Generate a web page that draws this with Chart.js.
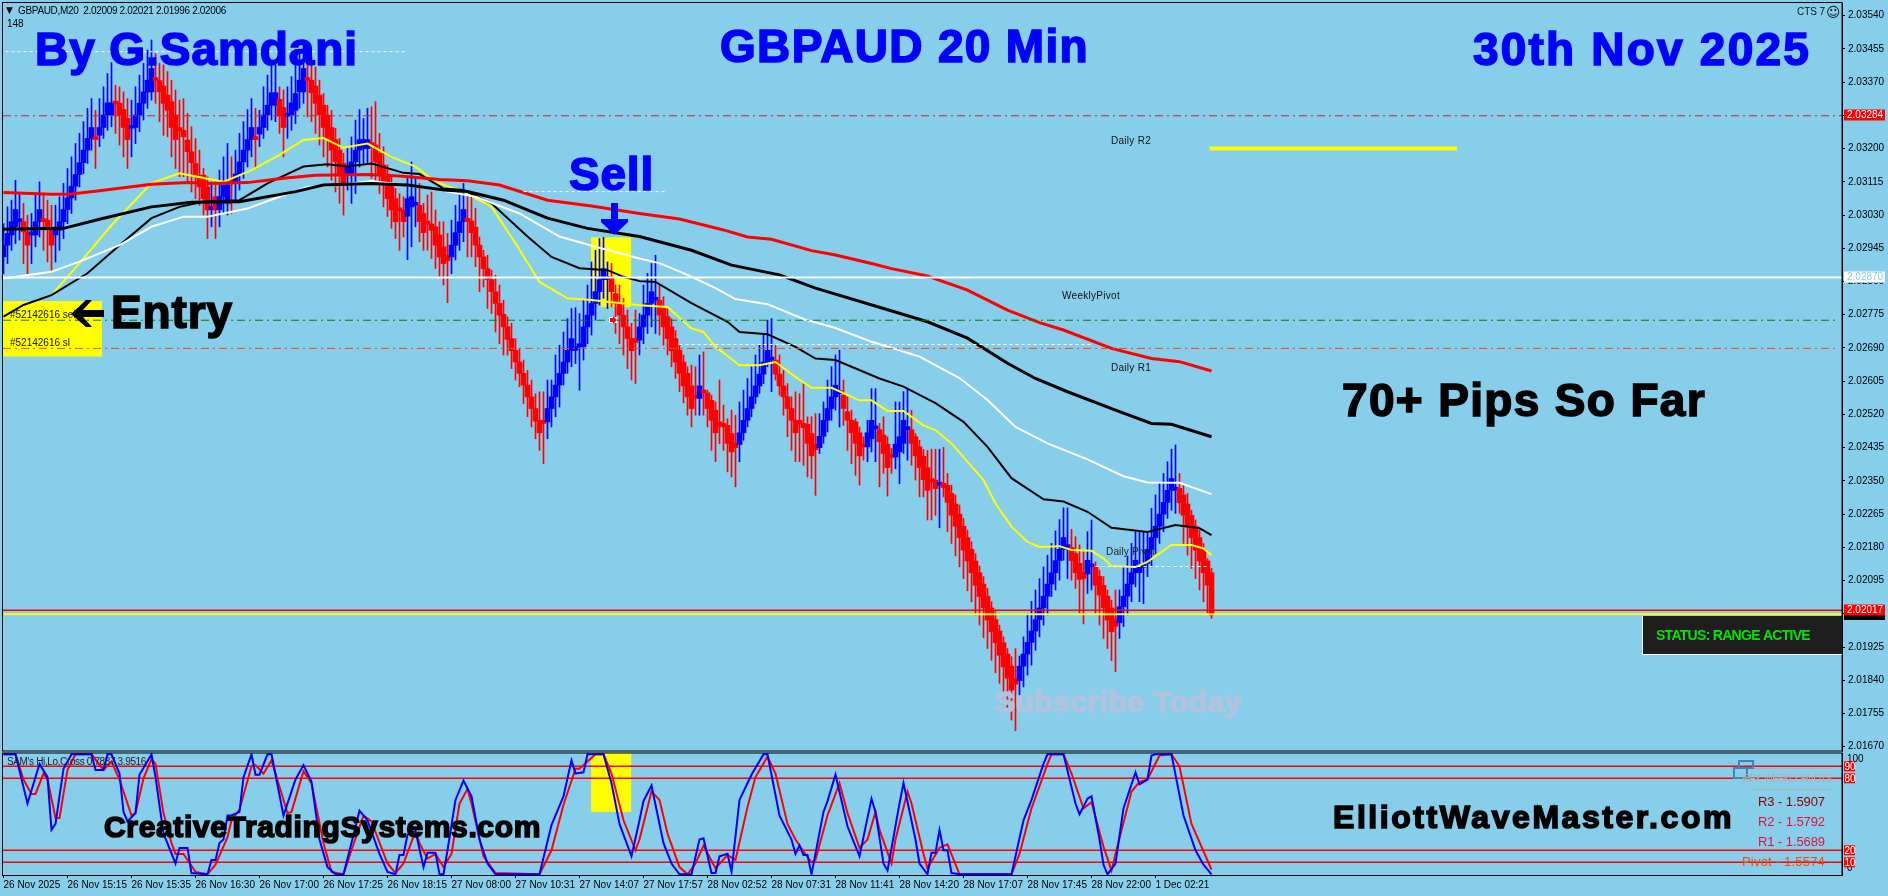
<!DOCTYPE html>
<html>
<head>
<meta charset="utf-8">
<title>GBPAUD 20 Min</title>
<script src="https://cdn.jsdelivr.net/npm/chart.js@4/dist/chart.umd.min.js"></script>
<style>
  html, body { margin: 0; padding: 0; background: #87ceeb; overflow: hidden; }
  canvas { position: absolute; left: 0; }
  #priceChart { top: 0; }
  #oscChart { top: 752px; }
</style>
</head>
<body>
<canvas id="priceChart" width="1888" height="752"></canvas>
<canvas id="oscChart" width="1888" height="144"></canvas>
<script>
// all prices below are in points above 2.00000 (3284 = 2.03284)
const opens = [
  2923,2953,2979,3000,3013,3013,2987,2979,2979,3013,
  3021,3017,2996,2979,2991,3013,3044,3074,3104,3134,
  3164,3196,3226,3224,3234,3254,3286,3286,3317,3316,
  3300,3277,3252,3254,3286,3316,3345,3345,3375,3374,
  3360,3337,3320,3286,3254,3247,3222,3192,3162,3132,
  3132,3102,3044,3077,3044,3077,3060,3115,3115,3135,
  3166,3196,3223,3225,3237,3254,3286,3311,3311,3326,
  3305,3283,3286,3298,3345,3345,3375,3375,3360,3337,
  3311,3286,3254,3223,3196,3162,3136,3136,3166,3196,
  3200,3200,3211,3209,3188,3158,3135,3104,3072,3044,
  3043,3027,3051,3055,3055,3034,3008,3007,3000,2979,
  2949,2927,2923,2953,2985,3013,3015,3015,2999,2953,
  2923,2893,2865,2834,2804,2776,2744,2714,2684,2654,
  2625,2595,2565,2535,2505,2505,2501,2535,2565,2595,
  2625,2654,2684,2684,2693,2693,2744,2774,2804,2834,
  2865,2865,2868,2829,2804,2774,2744,2714,2714,2710,
  2744,2774,2804,2812,2812,2791,2770,2744,2714,2684,
  2654,2625,2593,2565,2561,2578,2575,2556,2531,2501,
  2497,2492,2471,2447,2443,2473,2505,2535,2565,2593,
  2623,2654,2659,2659,2623,2593,2565,2535,2505,2505,
  2497,2495,2471,2444,2435,2464,2505,2535,2565,2573,
  2569,2527,2505,2501,2473,2444,2437,2458,2483,2481,
  2467,2444,2416,2411,2424,2446,2481,2481,2463,2437,
  2413,2384,2356,2352,2339,2344,2339,2318,2291,2265,
  2234,2205,2175,2145,2115,2086,2055,2025,1995,1966,
  1936,1907,1876,1845,1839,1876,1907,1937,1966,1995,
  2025,2055,2086,2115,2146,2175,2175,2180,2164,2139,
  2117,2112,2130,2129,2106,2083,2055,2025,1995,1987,
  2028,2055,2086,2115,2115,2129,2139,2175,2205,2234,
  2265,2295,2326,2326,2331,2314,2291,2262,2234,2205,
  2175,2145,2115
];
const closes = [
  2953,2983,3013,3044,3014,2987,2953,2987,3013,3044,
  3013,2996,2953,2991,3013,3044,3074,3104,3134,3164,
  3196,3226,3254,3223,3254,3286,3317,3317,3314,3286,
  3254,3223,3254,3286,3316,3345,3375,3405,3374,3345,
  3316,3298,3254,3223,3246,3230,3192,3164,3132,3102,
  3072,3043,3046,3043,3077,3107,3107,3113,3135,3166,
  3196,3223,3254,3223,3254,3286,3311,3343,3343,3283,
  3254,3286,3317,3341,3375,3405,3374,3343,3316,3286,
  3254,3226,3196,3166,3136,3107,3153,3166,3196,3223,
  3223,3223,3208,3166,3135,3115,3072,3043,3013,3041,
  3013,3072,3077,3058,3013,2985,3007,2991,2953,2923,
  2906,2913,2953,2985,3013,3044,3014,2985,2953,2923,
  2893,2865,2834,2804,2774,2744,2712,2683,2654,2625,
  2595,2565,2535,2503,2473,2497,2535,2565,2595,2625,
  2654,2684,2714,2693,2701,2744,2774,2804,2834,2865,
  2893,2867,2834,2804,2774,2744,2714,2683,2704,2744,
  2774,2804,2834,2816,2774,2744,2714,2683,2654,2625,
  2593,2565,2535,2562,2593,2575,2535,2505,2473,2490,
  2488,2446,2424,2435,2473,2505,2535,2565,2593,2623,
  2654,2684,2663,2623,2593,2565,2535,2505,2473,2495,
  2486,2446,2414,2430,2464,2505,2535,2565,2595,2578,
  2535,2505,2473,2446,2414,2437,2473,2505,2486,2450,
  2420,2384,2410,2444,2463,2505,2484,2446,2414,2384,
  2353,2326,2347,2330,2343,2333,2295,2262,2234,2205,
  2173,2145,2115,2083,2054,2025,1994,1964,1936,1904,
  1874,1845,1815,1830,1876,1907,1937,1966,1995,2025,
  2055,2086,2115,2146,2175,2205,2187,2146,2115,2098,
  2100,2147,2132,2083,2058,2025,1994,1964,1978,2028,
  2055,2086,2115,2147,2135,2136,2175,2205,2234,2265,
  2295,2326,2356,2330,2294,2262,2234,2205,2173,2145,
  2115,2083,2007
];
const highs = [
  3008,3051,3068,3119,3085,3060,3030,3034,3085,3115,
  3085,3068,3055,3055,3077,3111,3149,3179,3213,3239,
  3269,3303,3328,3298,3328,3358,3392,3420,3362,3358,
  3345,3328,3324,3358,3388,3418,3452,3478,3443,3418,
  3414,3397,3375,3350,3324,3328,3290,3256,3226,3196,
  3149,3128,3115,3119,3145,3179,3213,3179,3196,3239,
  3269,3300,3328,3303,3298,3358,3388,3418,3414,3358,
  3350,3358,3384,3414,3452,3478,3443,3435,3409,3375,
  3341,3311,3298,3252,3226,3188,3205,3230,3273,3300,
  3277,3303,3307,3320,3239,3205,3158,3128,3098,3085,
  3077,3128,3166,3124,3111,3060,3081,3089,3043,3013,
  3013,2983,3017,3055,3085,3111,3081,3081,3047,2974,
  2940,2927,2889,2876,2851,2812,2770,2753,2714,2689,
  2659,2633,2608,2573,2578,2578,2608,2608,2672,2697,
  2731,2765,2791,2793,2778,2812,2851,2910,2940,2970,
  2973,2910,2906,2851,2851,2817,2787,2753,2787,2778,
  2851,2881,2906,2927,2851,2821,2791,2765,2735,2697,
  2672,2642,2646,2642,2672,2680,2582,2569,2552,2608,
  2544,2509,2531,2518,2552,2582,2612,2642,2672,2697,
  2727,2761,2765,2697,2672,2633,2599,2565,2578,2573,
  2599,2514,2514,2522,2522,2552,2608,2642,2672,2684,
  2608,2565,2531,2509,2488,2463,2505,2586,2586,2497,
  2514,2463,2433,2552,2552,2578,2586,2531,2471,2454,
  2430,2428,2431,2431,2431,2436,2369,2339,2314,2288,
  2254,2224,2194,2164,2132,2105,2075,2041,2015,1981,
  1951,1921,1900,1921,1902,1951,2011,2042,2071,2100,
  2130,2160,2190,2222,2251,2281,2281,2226,2207,2186,
  2169,2220,2250,2143,2122,2105,2071,2045,2071,2071,
  2130,2158,2190,2220,2220,2220,2220,2280,2314,2344,
  2369,2399,2431,2442,2369,2339,2318,2275,2250,2224,
  2190,2151,2126
];
const lows = [
  2880,2906,2940,2957,2966,2906,2880,2906,2949,2974,
  2940,2910,2889,2910,2940,2970,3008,3034,3068,3102,
  3136,3162,3196,3149,3205,3226,3247,3256,3239,3209,
  3179,3149,3179,3213,3243,3273,3303,3324,3316,3269,
  3234,3230,3179,3149,3128,3128,3111,3089,3072,3055,
  3030,2970,3000,2970,3000,3034,3030,3034,3068,3094,
  3124,3153,3179,3149,3205,3226,3247,3273,3269,3239,
  3179,3226,3247,3264,3303,3316,3281,3269,3239,3209,
  3179,3153,3119,3089,3060,3030,3094,3060,3085,3153,
  3162,3162,3124,3115,3085,3051,3026,2996,2970,2940,
  2974,2916,2949,3000,2962,2940,2940,2919,2893,2872,
  2851,2806,2880,2915,2940,2962,2923,2923,2898,2834,
  2846,2791,2778,2731,2701,2672,2672,2637,2608,2591,
  2548,2514,2488,2458,2428,2394,2458,2488,2514,2539,
  2595,2625,2642,2650,2582,2659,2701,2723,2761,2800,
  2817,2791,2795,2727,2701,2672,2637,2608,2599,2672,
  2701,2727,2744,2727,2723,2697,2672,2642,2612,2578,
  2550,2518,2488,2518,2518,2518,2488,2428,2399,2445,
  2428,2373,2360,2335,2399,2454,2488,2514,2548,2574,
  2599,2642,2578,2608,2569,2518,2463,2428,2399,2399,
  2390,2360,2356,2313,2420,2446,2475,2505,2531,2488,
  2492,2428,2394,2364,2339,2403,2399,2424,2399,2335,
  2369,2311,2369,2381,2343,2420,2403,2390,2352,2309,
  2309,2250,2250,2262,2230,2309,2220,2190,2158,2130,
  2100,2069,2041,2007,1981,1949,1921,1891,1859,1832,
  1802,1768,1738,1711,1802,1823,1853,1879,1917,1951,
  1981,2007,2054,2071,2096,2147,2100,2096,2075,2011,
  1984,2062,2071,2011,1981,1947,1921,1890,1862,1947,
  1977,2007,2041,2079,2041,2036,2105,2130,2164,2190,
  2220,2254,2275,2267,2267,2190,2160,2126,2100,2071,
  2041,2011,1998
];

// moving averages, read at the bends of each line
const redMaBars = [0,12,17,24,37,46,52,61,70,78,91,99,109,116,124,136,147,159,169,180,186,192,202,208,217,222,231,241,251,259,265,277,287,294,302];
const redMaVals = [3088,3083,3084,3092,3109,3113,3111,3113,3124,3132,3134,3130,3121,3118,3107,3068,3053,3034,3020,2992,2974,2968,2939,2928,2906,2893,2874,2838,2787,2755,2736,2689,2663,2655,2631];
const slowBlackBars = [0,15,25,37,47,59,73,80,92,101,110,116,125,136,146,159,172,182,194,203,220,231,241,251,258,266,279,287,292,302];
const slowBlackVals = [2994,2996,3022,3051,3063,3064,3090,3107,3111,3107,3094,3090,3068,3022,2996,2975,2940,2902,2877,2843,2791,2757,2715,2651,2612,2578,2527,2497,2495,2463];
const whiteMaBars = [0,12,19,29,37,45,51,61,69,76,84,92,102,111,118,129,139,148,159,164,171,178,183,191,200,208,217,229,239,246,253,261,271,280,286,294,302];
const whiteMaVals = [2868,2885,2911,2953,3000,3026,3026,3047,3077,3102,3107,3117,3105,3090,3077,3034,2975,2949,2919,2907,2877,2843,2815,2802,2764,2741,2706,2668,2613,2557,2488,2446,2405,2362,2346,2345,2316];
const fastBlackBars = [0,5,12,21,29,37,44,50,59,66,75,81,86,92,100,104,110,115,122,131,137,144,151,155,159,163,172,181,184,191,198,203,208,219,225,233,240,246,252,260,265,271,277,286,293,299,302];
const fastBlackVals = [2770,2800,2825,2881,2953,3022,3051,3064,3068,3111,3154,3160,3154,3162,3138,3135,3098,3094,3060,2975,2923,2894,2889,2872,2861,2859,2805,2757,2731,2725,2693,2663,2659,2612,2591,2549,2501,2437,2357,2303,2297,2271,2230,2219,2237,2229,2211];
const yellowMaBars = [12,19,27,37,44,55,62,69,75,80,85,91,97,103,108,115,122,128,134,141,147,159,166,172,175,178,183,184,189,193,198,202,207,214,217,221,225,230,233,237,245,248,252,256,259,264,267,272,275,277,283,286,292,297,300,302];
const yellowMaVals = [2825,2907,3004,3112,3137,3115,3145,3184,3222,3227,3202,3213,3179,3154,3115,3090,3051,2958,2859,2817,2813,2799,2795,2740,2731,2693,2654,2646,2646,2654,2616,2588,2588,2556,2556,2529,2529,2492,2480,2446,2352,2292,2233,2194,2181,2183,2173,2171,2152,2132,2130,2143,2186,2186,2177,2160];

// oscillator in the lower window
const oscBlueBars = [0,3,6,9,11,12,13,15,17,22,23,25,26,27,29,30,31,33,34,37,38,40,43,44,46,47,51,52,53,54,55,56,57,59,60,62,63,64,66,67,70,73,75,77,79,81,83,85,87,89,91,94,96,98,99,100,101,103,105,106,108,109,110,111,113,115,117,119,121,123,134,137,140,142,143,145,146,150,152,154,157,159,160,162,165,167,169,172,174,175,177,178,179,181,182,184,187,190,191,194,197,198,199,200,201,202,205,206,208,211,214,217,218,220,221,224,225,228,229,231,232,233,234,235,236,237,239,252,255,257,260,261,265,268,269,271,272,274,275,276,278,280,283,284,286,287,288,292,295,298,300,302];
const oscBlueVals = [100,100,59,92,81,37,42,88,100,100,87,87,100,100,84,52,44,51,83,100,81,34,9,22,22,1,0,12,12,26,29,49,49,52,81,100,83,83,100,100,49,79,91,77,29,6,0,0,26,53,45,17,2,0,16,16,33,36,6,18,18,0,0,20,62,78,65,29,9,0,0,41,65,95,84,85,100,100,76,42,15,45,61,74,26,9,0,0,29,30,1,1,15,17,2,62,83,100,100,49,29,17,24,16,16,0,52,61,83,40,15,63,52,9,3,59,76,29,9,0,18,18,37,20,20,1,0,0,45,62,92,100,100,59,50,63,65,29,8,0,9,55,85,75,79,99,100,100,49,20,8,0];
const oscRedBars = [0,3,5,7,8,10,11,13,14,16,18,22,25,27,29,32,33,35,37,38,40,42,43,45,48,51,53,56,57,59,62,63,65,67,68,71,72,75,77,80,82,85,87,90,92,96,98,100,103,104,106,108,110,112,114,116,117,120,123,134,137,140,143,144,148,150,152,155,158,159,162,164,166,169,171,173,175,178,181,183,186,188,191,193,196,198,200,202,203,206,209,211,214,216,218,219,222,223,226,227,230,231,234,236,239,252,254,257,261,262,265,267,270,272,275,277,278,282,284,286,289,292,294,297,302];
const oscRedVals = [100,100,79,67,67,84,79,47,47,87,100,100,87,94,79,49,51,80,96,92,51,26,17,17,2,0,8,31,45,54,90,91,84,95,84,51,52,86,76,26,2,0,20,49,44,9,1,9,36,26,13,17,6,17,59,71,59,15,1,0,20,58,88,88,100,100,84,45,20,29,69,62,34,6,0,9,24,5,16,12,56,81,98,84,42,29,19,10,12,49,76,51,22,29,52,37,9,29,69,59,17,5,22,25,0,0,17,55,92,100,100,84,55,60,23,3,17,69,77,79,99,100,90,42,4];
const oscLevels = [90, 80, 20, 10];

// axis labels and level lines
const priceTicks = [3540,3455,3370,3285,3200,3115,3030,2945,2860,2775,2690,2605,2520,2435,2350,2265,2180,2095,2010,1925,1840,1755,1670];
const timeTickBars = [0,16,32,48,64,80,96,112,128,144,160,176,192,208,224,240,256,272,288];
const timeLabels = ["26 Nov 2025","26 Nov 15:15","26 Nov 15:35","26 Nov 16:30","26 Nov 17:00","26 Nov 17:25","26 Nov 18:15","27 Nov 08:00","27 Nov 10:31","27 Nov 14:07","27 Nov 17:57","28 Nov 02:52","28 Nov 07:31","28 Nov 11:41","28 Nov 14:20","28 Nov 17:07","28 Nov 17:45","28 Nov 22:00","1 Dec 02:21"];
const dailyR2 = 3284, weeklyPivot = 2870, greenLevel = 2761, orangeLevel = 2689, bidLevel = 2019, yellowLevel = 2009;
const whiteDashLevels = [
  { value: 3448, from: -1, to: 101 },
  { value: 3090, from: 130, to: 166 },
  { value: 2699, from: 169, to: 272 },
  { value: 2131, from: 273, to: 301.5 }
];
const targetLevel = { value: 3200, from: 301.5, to: 363.4 };

const X_MIN = -0.125;
const X_MAX = 459.625;
const SKY = "#87ceeb";
const toPrice = (v) => 2 + v / 100000;

function maLine(bars, vals, color, width, order) {
  return {
    type: "line",
    data: bars.map((b, i) => ({ x: b, y: toPrice(vals[i]) })),
    borderColor: color,
    borderWidth: width,
    pointRadius: 0,
    order: order,
  };
}

function levelLine(value, from, to, color, width, dash, order) {
  return {
    type: "line",
    data: [{ x: from, y: toPrice(value) }, { x: to, y: toPrice(value) }],
    borderColor: color,
    borderWidth: width,
    borderDash: dash || [],
    pointRadius: 0,
    order: order,
  };
}

function oscLine(bars, vals, color) {
  return {
    type: "line",
    data: bars.map((b, i) => ({ x: b, y: vals[i] })),
    borderColor: color,
    borderWidth: 2,
    pointRadius: 0,
  };
}

// free text on the picture, x and y are page pixels; heavy text sits on its baseline
const priceTexts = [
  { t: "▼", x: 6, y: 11, font: "9px 'DejaVu Sans'", c: "#000" },
  { t: "GBPAUD,M20  2.02009 2.02021 2.01996 2.02006", x: 18, y: 11, w: 208, font: "10px 'Liberation Sans'", c: "#000" },
  { t: "148", x: 7, y: 24, font: "10px 'Liberation Sans'", c: "#000" },
  { t: "Daily R2", x: 1111, y: 141, w: 40, font: "10px 'Liberation Sans'", c: "#111" },
  { t: "WeeklyPivot", x: 1062, y: 296, w: 58, font: "10px 'Liberation Sans'", c: "#111" },
  { t: "Daily R1", x: 1111, y: 368, w: 40, font: "10px 'Liberation Sans'", c: "#111" },
  { t: "Daily Pivot", x: 1106, y: 552, w: 49, font: "10px 'Liberation Sans'", c: "#222" },
  { t: "#52142616 sell", x: 10, y: 315, font: "10px 'Liberation Sans'", c: "#111" },
  { t: "#52142616 sl", x: 10, y: 343, font: "10px 'Liberation Sans'", c: "#111" },
  { t: "By G.Samdani", x: 35, y: 65, w: 323, font: "bold 46px 'Liberation Sans'", c: "#0000ff", heavy: true },
  { t: "GBPAUD 20 Min", x: 720, y: 62, w: 369, font: "bold 46px 'Liberation Sans'", c: "#0000ff", heavy: true },
  { t: "30th Nov 2025", x: 1473, y: 65, w: 338, font: "bold 46px 'Liberation Sans'", c: "#0000ff", heavy: true },
  { t: "Sell", x: 569, y: 190, w: 85, font: "bold 46px 'Liberation Sans'", c: "#0000ff", heavy: true },
  { t: "Entry", x: 111, y: 328, w: 122, font: "bold 46px 'Liberation Sans'", c: "#000", heavy: true },
  { t: "70+ Pips So Far", x: 1342, y: 416, w: 364, font: "bold 46px 'Liberation Sans'", c: "#000", heavy: true },
  { t: "Subscribe Today", x: 995, y: 712, w: 247, font: "bold 30px 'Liberation Sans'", c: "#b0c4de", heavy: true },
  { t: "CTS 7", x: 1797, y: 12, w: 28, font: "10px 'Liberation Sans'", c: "#111" },
  { t: "☺", x: 1826, y: 13, font: "14px 'DejaVu Sans'", c: "#111" },
];
const oscTexts = [
  { t: "SAM's Hi,Lo,Cross 0.7837 3.9516", x: 7, y: 762, w: 139, font: "10px 'Liberation Sans'", c: "#222" },
  { t: "CreativeTradingSystems.com", x: 104, y: 837, w: 437, font: "bold 30px 'Liberation Sans'", c: "#000", heavy: true },
  { t: "ElliottWaveMaster.com", x: 1333, y: 828, w: 401, font: "bold 32px 'Liberation Sans'", c: "#000", heavy: true },
  { t: "IBFX  WEEKLY PIVOTS", x: 1742, y: 779, w: 89, font: "10px 'Liberation Sans'", c: "#b0b0b0" },
  { t: "R3 - 1.5907", x: 1758, y: 802, w: 67, font: "13px 'Liberation Sans'", c: "#8b0000" },
  { t: "R2 - 1.5792", x: 1758, y: 822, w: 67, font: "13px 'Liberation Sans'", c: "#dc143c" },
  { t: "R1 - 1.5689", x: 1758, y: 842, w: 67, font: "13px 'Liberation Sans'", c: "#dc143c" },
  { t: "Pivot - 1.5574", x: 1742, y: 862, w: 83, font: "13px 'Liberation Sans'", c: "#ff4500" },
  { t: "100", x: 1847, y: 759, font: "10px 'Liberation Sans'", c: "#000" },
  { t: "0", x: 1847, y: 868, font: "10px 'Liberation Sans'", c: "#000" },
];

function drawText(ctx, item, top) {
  ctx.save();
  ctx.font = item.font;
  ctx.fillStyle = item.c;
  ctx.textAlign = "left";
  ctx.textBaseline = item.heavy ? "alphabetic" : "middle";
  if (item.w) {
    const extra = item.w - ctx.measureText(item.t).width;
    ctx.letterSpacing = (extra / item.t.length).toFixed(3) + "px";
  }
  ctx.fillText(item.t, item.x, item.y - top);
  if (item.heavy) {
    ctx.strokeStyle = item.c;
    ctx.lineWidth = 1.6;
    ctx.strokeText(item.t, item.x, item.y - top);
  }
  ctx.restore();
}

function axisBox(ctx, text, x, y, w, h, bg, fg, inset) {
  ctx.fillStyle = bg;
  ctx.fillRect(x, y - h / 2, w, h);
  ctx.fillStyle = fg;
  ctx.font = "10px 'Liberation Sans'";
  ctx.textAlign = "left";
  ctx.textBaseline = "middle";
  ctx.fillText(text, x + inset, y + 0.5);
}

// yellow boxes, [from bar, to bar, top, bottom]
const priceZones = [
  [-1, 24.6, 2810, 2668],
  [146.9, 156.9, 2973, 2834],
  [149.4, 156.9, 2834, 2795],
];

const priceLayer = {
  id: "priceLayer",
  beforeDatasetsDraw(chart) {
    const { ctx, scales, chartArea } = chart;
    ctx.save();
    ctx.beginPath();
    ctx.rect(chartArea.left, chartArea.top, chartArea.width, chartArea.height);
    ctx.clip();
    ctx.fillStyle = "#ffff00";
    priceZones.forEach((z) => {
      const x1 = scales.x.getPixelForValue(z[0]);
      const x2 = scales.x.getPixelForValue(z[1]);
      const y1 = scales.y.getPixelForValue(toPrice(z[2]));
      const y2 = scales.y.getPixelForValue(toPrice(z[3]));
      ctx.fillRect(x1, y1, x2 - x1, y2 - y1);
    });
    ctx.restore();
  },
  afterDatasetsDraw(chart) {
    const { ctx } = chart;
    ctx.save();
    // frame
    ctx.strokeStyle = "#000";
    ctx.lineWidth = 1;
    ctx.strokeRect(2.5, 2.5, 1839.5, 748.5);

    priceTexts.forEach((item) => drawText(ctx, item, 0));

    // arrows
    ctx.fillStyle = "#0000ff";
    ctx.beginPath();
    ctx.moveTo(611, 203); ctx.lineTo(618, 203); ctx.lineTo(618, 219); ctx.lineTo(628, 219);
    ctx.lineTo(628, 222); ctx.lineTo(614.5, 235); ctx.lineTo(601, 222); ctx.lineTo(601, 219); ctx.lineTo(611, 219);
    ctx.closePath(); ctx.fill();
    ctx.fillStyle = "#000";
    ctx.beginPath();
    ctx.moveTo(71, 314); ctx.lineTo(86, 300); ctx.lineTo(92, 300); ctx.lineTo(83, 310); ctx.lineTo(104, 310);
    ctx.lineTo(104, 317); ctx.lineTo(83, 317); ctx.lineTo(92, 327); ctx.lineTo(86, 327);
    ctx.closePath(); ctx.fill();

    // order marker
    ctx.fillStyle = "#ffffff";
    ctx.fillRect(609, 317, 8, 6);
    ctx.fillStyle = "#ff0000";
    ctx.beginPath();
    ctx.moveTo(610, 318); ctx.lineTo(613, 318); ctx.lineTo(613, 316); ctx.lineTo(617, 320);
    ctx.lineTo(613, 324); ctx.lineTo(613, 322); ctx.lineTo(610, 322);
    ctx.closePath(); ctx.fill();

    // status panel
    ctx.fillStyle = "#1e1e1e";
    ctx.fillRect(1643, 616, 199, 38);
    ctx.strokeStyle = "#ffffff";
    ctx.beginPath();
    ctx.moveTo(1642.5, 616); ctx.lineTo(1642.5, 654.5); ctx.lineTo(1842, 654.5);
    ctx.stroke();
    drawText(ctx, { t: "STATUS: RANGE ACTIVE", x: 1656, y: 636, w: 154, font: "bold 14px 'Liberation Sans Narrow', 'Liberation Sans'", c: "#00e600" }, 0);

    // current price boxes
    axisBox(ctx, "2.03284", 1844, 115, 41, 11, "#ff0000", "#ffffff", 3);
    axisBox(ctx, "2.02870", 1844, 277, 41, 11, "#ffffff", SKY, 3);
    axisBox(ctx, "2.02006", 1844, 616, 41, 8, "#000000", "#000000", 3);
    axisBox(ctx, "2.02017", 1844, 610, 41, 11, "#ff0000", "#ffffff", 3);
    ctx.restore();
  },
};

const oscZone = [146.9, 156.9, 101.1, 52];

const oscLayer = {
  id: "oscLayer",
  beforeDatasetsDraw(chart) {
    const { ctx, scales } = chart;
    const x1 = scales.x.getPixelForValue(oscZone[0]);
    const x2 = scales.x.getPixelForValue(oscZone[1]);
    const y1 = scales.y.getPixelForValue(oscZone[2]);
    const y2 = scales.y.getPixelForValue(oscZone[3]);
    ctx.fillStyle = "#ffff00";
    ctx.fillRect(x1, y1, x2 - x1, y2 - y1);
  },
  afterDatasetsDraw(chart) {
    const { ctx, scales } = chart;
    ctx.save();
    ctx.strokeStyle = "#000";
    ctx.lineWidth = 1;
    ctx.strokeRect(2.5, 1, 1839.5, 122.5);

    // pivots panel bits
    ctx.strokeStyle = "#b0b0b0";
    ctx.beginPath();
    ctx.moveTo(1752, 16.5); ctx.lineTo(1832, 16.5);
    ctx.moveTo(1752, 37.5); ctx.lineTo(1832, 37.5);
    ctx.stroke();
    ctx.strokeStyle = "#4682b4";
    ctx.lineWidth = 2;
    ctx.strokeRect(1739, 9, 14, 7);
    ctx.strokeRect(1734, 16, 13, 10);

    oscTexts.forEach((item) => drawText(ctx, item, 752));

    oscLevels.forEach((lv) => {
      axisBox(ctx, String(lv), 1844, scales.y.getPixelForValue(lv), 11, 10, "#ff0000", "#ffffff", 0.5);
    });
    ctx.restore();
  },
};

const bodyColors = opens.map((o, i) => (closes[i] >= o ? "#0000ff" : "#ff0000"));

new Chart(document.getElementById("priceChart"), {
  type: "bar",
  data: {
    datasets: [
      {
        data: lows.map((l, i) => ({ x: i, y: [toPrice(l), toPrice(highs[i])] })),
        backgroundColor: bodyColors,
        barThickness: 1,
        grouped: false,
        order: 20,
      },
      {
        data: opens.map((o, i) => ({ x: i, y: [toPrice(o), toPrice(closes[i])] })),
        backgroundColor: bodyColors,
        barThickness: 5,
        minBarLength: 3,
        grouped: false,
        order: 19,
      },
      maLine(yellowMaBars, yellowMaVals, "#ffff00", 2, 10),
      maLine(fastBlackBars, fastBlackVals, "#000000", 2, 9),
      maLine(whiteMaBars, whiteMaVals, "#ffffff", 2, 8),
      maLine(slowBlackBars, slowBlackVals, "#000000", 3, 7),
      maLine(redMaBars, redMaVals, "#ff0000", 3, 6),
      levelLine(dailyR2, X_MIN, X_MAX, "#d02020", 1, [8, 4, 2, 4], 5),
      levelLine(greenLevel, X_MIN, 458, "#008000", 1, [8, 4, 2, 4], 5),
      levelLine(orangeLevel, X_MIN, 458, "#ff4500", 1, [8, 4, 2, 4], 5),
      levelLine(weeklyPivot, X_MIN, X_MAX, "#ffffff", 2, null, 4),
      levelLine(yellowLevel, X_MIN, X_MAX, "#ffff00", 2, null, 4),
      levelLine(bidLevel, X_MIN, X_MAX, "#ff0000", 1.5, null, 3),
      levelLine(targetLevel.value, targetLevel.from, targetLevel.to, "#ffff00", 4, null, 2),
      ...whiteDashLevels.map((l) => levelLine(l.value, l.from, l.to, "#ffffff", 1, [3, 3], 2)),
    ],
  },
  options: {
    responsive: false,
    animation: false,
    layout: { padding: { left: 3, top: 3, right: 0, bottom: 1 } },
    plugins: { legend: { display: false }, tooltip: { enabled: false } },
    scales: {
      x: {
        type: "linear",
        display: false,
        offset: false,
        min: X_MIN,
        max: X_MAX,
      },
      y: {
        position: "right",
        min: toPrice(1659),
        max: toPrice(3572.5),
        afterFit(scale) {
          scale.width = 46;
          scale.paddingTop = 0;
          scale.paddingBottom = 0;
        },
        afterBuildTicks(scale) {
          scale.ticks = priceTicks.map((v) => ({ value: toPrice(v) }));
        },
        border: { display: true, color: "#000" },
        grid: { drawOnChartArea: false, color: "#000", tickLength: 3 },
        ticks: {
          autoSkip: false,
          padding: 3,
          color: "#000",
          font: { family: "'Liberation Sans'", size: 10 },
          callback: (v) => v.toFixed(5),
        },
      },
    },
  },
  plugins: [priceLayer],
});

new Chart(document.getElementById("oscChart"), {
  type: "line",
  data: {
    datasets: [
      oscLine(oscBlueBars, oscBlueVals, "#0000ff"),
      oscLine(oscRedBars, oscRedVals, "#ff0000"),
      ...oscLevels.map((lv) => ({
        data: [{ x: X_MIN, y: lv }, { x: X_MAX, y: lv }],
        borderColor: "#ff0000",
        borderWidth: 1.5,
        pointRadius: 0,
      })),
    ],
  },
  options: {
    responsive: false,
    animation: false,
    layout: { padding: { left: 3, top: 1, right: 0, bottom: 1 } },
    plugins: { legend: { display: false }, tooltip: { enabled: false } },
    scales: {
      x: {
        type: "linear",
        min: X_MIN,
        max: X_MAX,
        afterFit(scale) {
          scale.height = 20;
          scale.paddingLeft = 0;
          scale.paddingRight = 0;
        },
        afterBuildTicks(scale) {
          scale.ticks = timeTickBars.map((b) => ({ value: b }));
        },
        border: { display: true, color: "#000" },
        grid: { drawOnChartArea: false, color: "#000", tickLength: 3 },
        ticks: {
          autoSkip: false,
          maxRotation: 0,
          align: "start",
          padding: 1,
          color: "#000",
          font: { family: "'Liberation Sans'", size: 10 },
          callback: (v) => timeLabels[timeTickBars.indexOf(v)],
        },
      },
      y: {
        position: "right",
        min: -0.6,
        max: 101.1,
        afterFit(scale) {
          scale.width = 46;
        },
        border: { display: true, color: "#000" },
        grid: { display: false },
        ticks: { display: false },
      },
    },
  },
  plugins: [oscLayer],
});
</script>
</body>
</html>
